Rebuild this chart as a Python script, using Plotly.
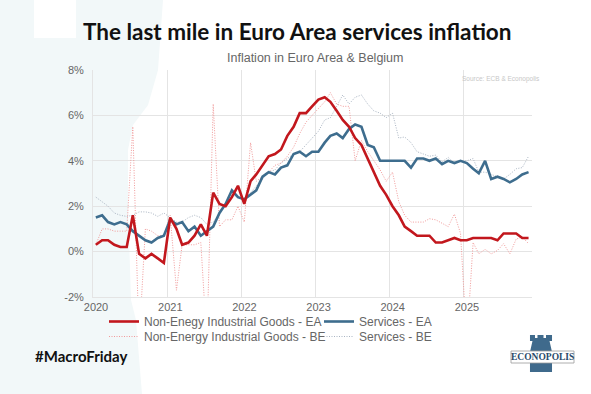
import plotly.graph_objects as go

# ---------------- data ----------------
months = [f"{y}-{m:02d}-15" for y in range(2020, 2026) for m in range(1, 13)][:71]

neig_ea = [0.3, 0.5, 0.5, 0.3, 0.2, 0.2, 1.6, -0.1, -0.3, -0.1, -0.3, -0.5,
           1.5, 1.0, 0.3, 0.4, 0.7, 1.2, 0.7, 2.6, 2.1, 2.0, 2.4, 2.9,
           2.1, 3.1, 3.4, 3.8, 4.2, 4.3, 4.5, 5.1, 5.5, 6.1, 6.1, 6.4,
           6.7, 6.8, 6.6, 6.2, 5.8, 5.5, 5.0, 4.7, 4.1, 3.5, 2.9, 2.5,
           2.0, 1.6, 1.1, 0.9, 0.7, 0.7, 0.7, 0.4, 0.4, 0.5, 0.6, 0.5,
           0.5, 0.6, 0.6, 0.6, 0.6, 0.5, 0.8, 0.8, 0.8, 0.6, 0.6]

serv_ea = [1.5, 1.6, 1.3, 1.2, 1.3, 1.2, 0.9, 0.7, 0.5, 0.4, 0.6, 0.7,
           1.4, 1.2, 1.3, 0.9, 1.1, 0.7, 0.9, 1.1, 1.7, 2.1, 2.7, 2.4,
           2.3, 2.5, 2.7, 3.3, 3.5, 3.4, 3.7, 3.8, 4.3, 4.4, 4.2, 4.4,
           4.4, 4.8, 5.1, 5.2, 5.0, 5.4, 5.6, 5.5, 4.7, 4.6, 4.0, 4.0,
           4.0, 4.0, 4.0, 3.7, 4.1, 4.1, 4.0, 4.1, 3.85, 4.0, 3.9, 4.0,
           3.9, 3.65, 3.45, 4.0, 3.2, 3.3, 3.2, 3.05, 3.2, 3.4, 3.5]

neig_be = [0.3, 1.0, 1.0, 0.9, 0.9, 0.9, 5.5, -4.0, 1.0, 0.9, 0.7, 0.7,
           1.6, -1.7, 0.3, 0.3, 0.3, 0.4, -4.0, 6.5, 1.1, 1.4, 1.4, 2.0,
           1.3, 4.8, 3.1, 3.3, 3.5, 3.8, 3.9, 4.2, 4.6, 5.2, 5.7, 6.0,
           6.3, 6.6, 7.0, 6.5, 6.4, 6.4, 4.0, 4.9, 4.4, 4.0, 3.6, 3.1,
           3.5, 2.2, 1.6, 1.3, 1.3, 1.3, 1.45, 1.4, 1.25, 1.1, 1.65, 0.8,
           -4.0, 0.4, -0.1, 0.1, -0.1, 0.05, 0.35, -0.1, 0.55, 0.65, 0.35]

serv_be = [2.4, 2.2, 2.0, 1.7, 1.6, 1.55, 1.6, 1.75, 1.75, 1.7, 1.55, 1.7,
           1.5, 1.3, 1.3, 1.5, 1.6, 1.5, 1.2, 1.3, 1.7, 2.1, 2.5, 2.4,
           2.3, 2.6, 2.9, 3.2, 3.5, 3.6, 3.9, 4.1, 4.3, 4.4, 4.7, 5.0,
           5.3, 5.8, 5.9, 6.4, 6.9, 6.5, 6.8, 6.9, 6.5, 6.2, 6.1, 5.9,
           6.1, 5.0, 5.05, 4.8, 4.4, 4.3, 4.2, 4.25, 3.95, 4.15, 3.9, 4.0,
           4.0, 4.1, 3.5, 3.5, 3.4, 3.3, 3.2, 3.4, 3.65, 3.7, 4.2]

series_names = ["Non-Enegy Industrial Goods - EA", "Services - EA",
                "Non-Energy Industrial Goods - BE", "Services - BE"]
y_ticks = [-2, 0, 2, 4, 6, 8]

# ---------------- layout helpers ----------------
W, H = 591, 394
L, R, T, B = 93, 532, 70, 297


def X(p):
    return (p - L) / (R - L)


def Y(p):
    return (B - p) / (B - T)


RED = "#c2171d"
BLUE = "#3e6d8e"
PINK = "#f19a9a"
GREY = "#a9b4c2"
DOT = "1px,1.5px"

fig = go.Figure()

fig.add_trace(go.Scatter(x=months, y=serv_be, name=series_names[3], mode="lines",
                         line=dict(color=GREY, width=1, dash=DOT), legend="legend2",
                         legendrank=2))
fig.add_trace(go.Scatter(x=months, y=neig_be, name=series_names[2], mode="lines",
                         line=dict(color=PINK, width=1, dash=DOT), legend="legend2",
                         legendrank=1))
fig.add_trace(go.Scatter(x=months, y=serv_ea, name=series_names[1], mode="lines",
                         line=dict(color=BLUE, width=2.6), legend="legend", legendrank=2))
fig.add_trace(go.Scatter(x=months, y=neig_ea, name=series_names[0], mode="lines",
                         line=dict(color=RED, width=2.6), legend="legend", legendrank=1))

shapes = []
# light decorative background shape on the left
pts = [(0, 0), (163, 0), (158, 70), (148, 105), (133, 125), (128, 150), (128, 205),
       (131, 300), (136, 320), (142, 394), (0, 394)]
path = "M " + " L ".join(f"{X(a):.4f},{Y(b):.4f}" for a, b in pts) + " Z"
shapes.append(dict(type="path", xref="paper", yref="paper", path=path,
                   fillcolor="#f2f8f9", line=dict(width=0), layer="below"))
shapes.append(dict(type="rect", xref="paper", yref="paper", x0=X(34), x1=X(76),
                   y0=Y(38), y1=Y(0), fillcolor="white", line=dict(width=0), layer="below"))

# logo tower
tower = [(530, 372), (530, 352), (532.5, 341), (530, 341), (530, 335), (535, 335), (535, 338),
         (537.5, 338), (537.5, 335), (543.5, 335), (543.5, 338), (546, 338), (546, 335),
         (552, 335), (552, 341), (549.5, 341), (552, 352), (552, 372)]
tpath = "M " + " L ".join(f"{X(a):.4f},{Y(b):.4f}" for a, b in tower) + " Z"
shapes.append(dict(type="path", xref="paper", yref="paper", path=tpath,
                   fillcolor="#3f6a8c", line=dict(width=0)))
shapes.append(dict(type="rect", xref="paper", yref="paper", x0=X(511), x1=X(574),
                   y0=Y(363), y1=Y(351), fillcolor="white", line=dict(color="#9a9a9a", width=0.8)))

annotations = [
    dict(text="The last mile in Euro Area services inflation", x=X(297), y=Y(31.5),
         xref="paper", yref="paper", xanchor="center", yanchor="middle", showarrow=False,
         font=dict(family="Lato", size=22.5, color="#111111", weight=700)),
    dict(text="Inflation in Euro Area & Belgium", x=X(315), y=Y(58),
         xref="paper", yref="paper", xanchor="center", yanchor="middle", showarrow=False,
         font=dict(family="Liberation Sans, Arial", size=12.5, color="#666666")),
    dict(text="Source: ECB & Econopolis", x=X(542), y=Y(79),
         xref="paper", yref="paper", xanchor="right", yanchor="middle", showarrow=False,
         font=dict(family="Liberation Sans, Arial", size=6.5, color="#c8c8c8")),
    dict(text="#MacroFriday", x=X(33), y=Y(356),
         xref="paper", yref="paper", xanchor="left", yanchor="middle", showarrow=False,
         font=dict(family="Lato", size=15, color="#111111", weight=700)),
    dict(text="ECONOPOLIS", x=X(542.5), y=Y(357.3),
         xref="paper", yref="paper", xanchor="center", yanchor="middle", showarrow=False,
         font=dict(family="Liberation Serif", size=9.5, color="#2b4a6a", weight=700)),
]

legend_common = dict(orientation="h", x=X(104), xanchor="left", yanchor="top",
                     entrywidth=170, entrywidthmode="pixels", itemwidth=30,
                     font=dict(size=12, color="#666666"), bgcolor="rgba(0,0,0,0)",
                     traceorder="normal")

fig.update_layout(
    width=W, height=H,
    margin=dict(l=L, r=W - R, t=T, b=H - B, pad=0),
    paper_bgcolor="white", plot_bgcolor="rgba(0,0,0,0)",
    font=dict(family="Liberation Sans, Arial", size=11, color="#666666"),
    showlegend=True,
    legend=dict(y=Y(307), **legend_common),
    legend2=dict(y=Y(322), **legend_common),
    shapes=shapes, annotations=annotations,
)

fig.update_xaxes(type="date", range=["2020-01-01", "2025-12-02"], dtick="M12",
                 tick0="2020-01-01", tickformat="%Y", showgrid=True, gridcolor="#e4e4e4",
                 gridwidth=1, zeroline=False, showline=True, linecolor="#e4e4e4",
                 ticks="", ticklabelshift=3, tickfont=dict(size=11, color="#666666"))
fig.update_yaxes(range=[-2, 8], tickvals=y_ticks, ticktext=[f"{v}%" for v in y_ticks],
                 showgrid=True, gridcolor="#e4e4e4", gridwidth=1, zeroline=False,
                 showline=True, linecolor="#e4e4e4", ticks="", ticklabelstandoff=6,
                 tickfont=dict(size=11, color="#666666"))

fig.write_html("out.html", config={"displayModeBar": False},
               post_script="document.body.style.margin='0';document.body.style.overflow='hidden';")
